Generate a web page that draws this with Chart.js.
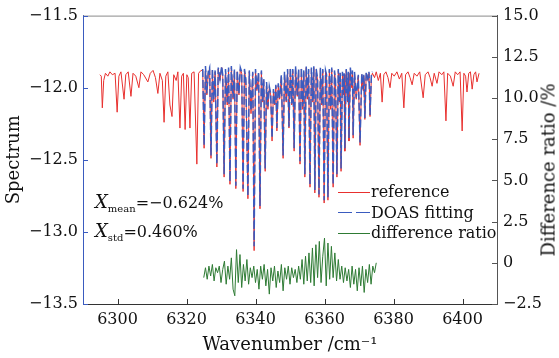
<!DOCTYPE html>
<html>
<head>
<meta charset="utf-8">
<script src="https://cdn.jsdelivr.net/npm/chart.js@4.4.1/dist/chart.umd.min.js"></script>
<style>
  body { margin: 0; background: #fff; }
  #wrap { position: relative; width: 559px; height: 358px; font-family: 'DejaVu Serif', serif; color: #111; }
  #wrap canvas { position: absolute; left: 0; top: 0; }
  .note { position: absolute; left: 95px; font-size: 16px; white-space: nowrap; line-height: 1; }
  .note i { font-size: 18px; }
  .note sub { font-size: 10px; vertical-align: -4px; }
  .legend { position: absolute; left: 338px; top: 182px; font-size: 16px; line-height: 1; }
  .row { height: 20.5px; display: flex; align-items: center; white-space: nowrap; }
  .swatch { width: 32px; height: 0; border-top: 1.4px solid; margin-right: 1px; }
  .dash { width: 14px; height: 0; border-top: 1.4px solid #3a5bbf; }
  .ytitle2 { position: absolute; left: 548px; top: 170px; transform: translate(-50%, -50%) rotate(-90deg); font-size: 18px; white-space: nowrap; }
</style>
</head>
<body>
<div id="wrap">
  <canvas id="chart" width="559" height="358"></canvas>
  <div class="note" style="top:193px"><i>X</i><sub>mean</sub>=&minus;0.624%</div>
  <div class="note" style="top:222px"><i>X</i><sub>std</sub>=0.460%</div>
  <div class="legend">
    <div class="row"><span class="swatch" style="border-color:#e8302e"></span>reference</div>
    <div class="row"><span style="display:flex;width:32px;justify-content:space-between;margin-right:1px"><span class="dash"></span><span class="dash"></span></span>DOAS fitting</div>
    <div class="row"><span class="swatch" style="border-color:#2e7b34"></span>difference ratio</div>
  </div>
  <div class="ytitle2">Difference ratio /%</div>
</div>
<script>
// ── Axis ticks ──
const xTicks = [6300, 6320, 6340, 6360, 6380, 6400];
const leftTicks = [-13.5, -13.0, -12.5, -12.0, -11.5];
const rightTicks = [-2.5, 0, 2.5, 5.0, 7.5, 10.0, 12.5, 15.0];

// ── Reference spectrum, red-only part (left) ──
const refLeftWave = [
    6294.9, 6295.3, 6295.6, 6296.0, 6296.5, 6297.2, 6297.8, 6298.5,
    6299.3, 6299.9, 6300.4, 6301.0, 6301.9, 6302.4, 6303.1, 6303.9,
    6304.5, 6305.3, 6306.2, 6306.8, 6307.6, 6308.8, 6309.5, 6310.3,
    6311.0, 6311.7, 6312.3, 6313.0, 6313.5, 6314.0, 6314.6, 6315.2,
    6315.8, 6316.3, 6317.0, 6317.5, 6318.1, 6318.6, 6319.1, 6319.6,
    6320.1, 6320.5, 6321.0, 6321.5, 6322.2, 6323.0, 6323.5, 6324.2
];
const refLeftValue = [
    -11.91, -11.92, -12.14, -11.95, -11.90, -11.92, -11.89, -11.91,
    -11.90, -12.17, -11.92, -11.89, -12.08, -11.91, -11.89, -12.06,
    -11.90, -11.92, -12.00, -11.89, -11.91, -11.96, -11.90, -11.88,
    -11.93, -12.04, -11.90, -11.95, -12.24, -11.92, -11.89, -12.12,
    -12.20, -11.91, -11.95, -11.89, -12.28, -11.92, -11.90, -12.29,
    -11.91, -11.93, -12.28, -11.90, -11.89, -12.53, -11.90, -11.88
];

// ── Fitted band (reference + DOAS fit) ──
const bandWave = [
    6324.7, 6325.1, 6325.5, 6325.9, 6326.3, 6326.7, 6327.1, 6327.5,
    6327.9, 6328.3, 6328.8, 6329.2, 6329.7, 6330.2, 6330.5, 6330.9,
    6331.3, 6331.8, 6332.2, 6332.6, 6333.0, 6333.5, 6333.9, 6334.3,
    6334.7, 6335.2, 6335.6, 6336.0, 6336.4, 6336.8, 6337.2, 6337.8,
    6338.2, 6338.7, 6339.2, 6339.6, 6340.0, 6340.4, 6340.9, 6341.3,
    6341.7, 6342.1, 6342.4, 6342.8, 6343.2, 6343.6, 6344.0, 6344.4,
    6344.8, 6345.2, 6345.6, 6345.9, 6346.2, 6346.6, 6347.0, 6347.5,
    6348.0, 6348.4, 6348.9, 6349.3, 6349.7, 6350.1, 6350.5, 6350.8,
    6351.2, 6351.6, 6352.1, 6352.5, 6352.9, 6353.3, 6353.7, 6354.0,
    6354.3, 6354.7, 6355.1, 6355.4, 6355.8, 6356.2, 6356.6, 6356.9,
    6357.2, 6357.6, 6358.0, 6358.4, 6358.8, 6359.2, 6359.5, 6359.9,
    6360.3, 6360.6, 6361.0, 6361.4, 6361.8, 6362.1, 6362.5, 6362.9,
    6363.2, 6363.6, 6364.0, 6364.3, 6364.55, 6364.8, 6365.2, 6365.5,
    6365.7, 6365.9, 6366.3, 6366.7, 6366.9, 6367.1, 6367.5, 6367.9,
    6368.1, 6368.3, 6368.7, 6369.2, 6369.8, 6370.3, 6370.8, 6371.2,
    6371.4, 6371.7, 6372.1, 6372.6, 6372.9, 6373.2, 6373.6, 6373.9
];
const refBandValue = [
    -11.88, -12.42, -11.86, -12.05, -11.90, -11.87, -12.49, -11.88,
    -12.10, -11.89, -12.55, -11.87, -11.95, -11.86, -11.92, -12.62,
    -11.88, -12.12, -11.87, -12.67, -11.86, -12.08, -11.88, -12.70,
    -11.89, -12.05, -11.87, -11.90, -12.72, -11.88, -11.95, -12.77,
    -11.89, -12.18, -11.90, -13.13, -11.88, -12.02, -11.90, -12.84,
    -11.89, -12.10, -11.95, -12.58, -11.97, -12.15, -12.00, -12.05,
    -12.37, -12.02, -12.12, -11.99, -12.30, -11.98, -12.08, -11.92,
    -12.49, -11.90, -12.10, -11.88, -12.28, -11.87, -12.12, -11.88,
    -12.44, -11.86, -12.06, -11.88, -12.53, -11.87, -12.15, -11.89,
    -12.62, -11.86, -12.08, -11.88, -12.69, -11.87, -12.10, -11.86,
    -12.73, -11.88, -11.95, -12.76, -11.87, -12.12, -11.88, -12.80,
    -11.89, -11.92, -12.78, -11.88, -12.15, -11.87, -12.69, -11.89,
    -11.96, -12.62, -11.88, -12.10, -11.90, -12.58, -11.90, -12.05,
    -11.91, -12.44, -11.88, -12.10, -11.90, -12.37, -11.87, -12.00,
    -11.89, -12.35, -11.90, -12.08, -11.92, -12.40, -11.91, -12.02,
    -11.92, -12.22, -11.90, -11.95, -11.90, -12.20, -11.92, -11.90
];
const fitBandValue = [
    -11.87, -12.40, -11.85, -12.04, -11.89, -11.86, -12.47, -11.87,
    -12.08, -11.88, -12.53, -11.86, -11.94, -11.85, -11.91, -12.60,
    -11.87, -12.10, -11.86, -12.65, -11.85, -12.07, -11.87, -12.68,
    -11.88, -12.04, -11.86, -11.89, -12.70, -11.87, -11.94, -12.75,
    -11.88, -12.16, -11.89, -13.10, -11.87, -12.01, -11.89, -12.82,
    -11.88, -12.09, -11.94, -12.56, -11.96, -12.13, -11.99, -12.04,
    -12.35, -12.01, -12.11, -11.98, -12.28, -11.97, -12.07, -11.91,
    -12.47, -11.89, -12.09, -11.87, -12.27, -11.86, -12.11, -11.87,
    -12.42, -11.85, -12.05, -11.87, -12.51, -11.86, -12.13, -11.88,
    -12.60, -11.85, -12.07, -11.87, -12.67, -11.86, -12.09, -11.85,
    -12.71, -11.87, -11.94, -12.74, -11.86, -12.11, -11.87, -12.78,
    -11.88, -11.91, -12.76, -11.87, -12.13, -11.86, -12.67, -11.88,
    -11.95, -12.60, -11.87, -12.09, -11.89, -12.56, -11.89, -12.04,
    -11.90, -12.42, -11.87, -12.09, -11.89, -12.35, -11.86, -11.99,
    -11.88, -12.33, -11.89, -12.07, -11.91, -12.38, -11.90, -12.01,
    -11.91, -12.21, -11.89, -11.94, -11.89, -12.19, -11.91, -11.89
];

// ── Reference spectrum, red-only part (right) ──
const refRightWave = [
    6374.5, 6375.0, 6375.6, 6376.2, 6376.7, 6377.2, 6377.8, 6378.4,
    6379.0, 6379.5, 6380.2, 6381.0, 6381.7, 6382.4, 6383.0, 6383.5,
    6384.2, 6384.8, 6385.4, 6386.0, 6386.8, 6387.6, 6388.6, 6389.2,
    6390.0, 6390.6, 6391.2, 6391.8, 6392.6, 6393.2, 6394.0, 6394.6,
    6395.2, 6395.7, 6396.5, 6397.3, 6397.9, 6398.6, 6399.3, 6399.9,
    6400.4, 6400.9, 6401.3, 6401.8, 6402.3, 6402.8, 6403.3, 6403.8,
    6404.2, 6404.8
];
const refRightValue = [
    -11.93, -11.89, -11.95, -11.90, -12.10, -11.91, -11.89, -11.93,
    -12.00, -11.90, -11.92, -11.89, -11.94, -11.90, -12.14, -11.91,
    -11.89, -11.93, -11.98, -11.90, -11.92, -11.89, -12.07, -11.91,
    -11.89, -11.93, -11.99, -11.90, -11.97, -11.89, -11.91, -11.89,
    -12.23, -11.90, -11.92, -11.99, -11.89, -11.91, -11.89, -12.30,
    -11.90, -11.92, -12.03, -11.90, -11.89, -12.01, -11.91, -11.89,
    -11.96, -11.90
];

// ── Difference ratio (%) ──
const diffWave = [
    6325.0, 6325.5, 6326.0, 6326.5, 6327.0, 6327.5, 6328.0, 6328.5, 6329.0, 6329.5,
    6330.0, 6330.5, 6331.0, 6331.5, 6332.0, 6332.5, 6333.0, 6333.5, 6334.0, 6334.5,
    6335.0, 6335.5, 6336.0, 6336.5, 6337.0, 6337.5, 6338.0, 6338.5, 6339.0, 6339.5,
    6340.0, 6340.5, 6341.0, 6341.5, 6342.0, 6342.5, 6343.0, 6343.5, 6344.0, 6344.5,
    6345.0, 6345.5, 6346.0, 6346.5, 6347.0, 6347.5, 6348.0, 6348.5, 6349.0, 6349.5,
    6350.0, 6350.5, 6351.0, 6351.5, 6352.0, 6352.5, 6353.0, 6353.5, 6354.0, 6354.5,
    6355.0, 6355.5, 6356.0, 6356.5, 6357.0, 6357.5, 6358.0, 6358.5, 6359.0, 6359.5,
    6360.0, 6360.5, 6361.0, 6361.5, 6362.0, 6362.5, 6363.0, 6363.5, 6364.0, 6364.5,
    6365.0, 6365.5, 6366.0, 6366.5, 6367.0, 6367.5, 6368.0, 6368.5, 6369.0, 6369.5,
    6370.0, 6370.5, 6371.0, 6371.5, 6372.0, 6372.5, 6373.0, 6373.5, 6374.0, 6374.5,
    6375.0
];
const diffValue = [
    -0.9, -0.3, -1.0, -0.2, -0.8, -0.1, -1.1, -0.3, -0.6, -0.2,
    -1.2, -0.4, 0.1, -1.3, -0.2, -1.0, 0.3, -1.6, -2.0, 0.8,
    -1.2, 0.5, -1.5, -0.1, -1.1, 0.2, -1.3, -0.3, -0.9, -0.2,
    -1.2, -0.4, -1.6, -0.2, -1.0, -0.1, -1.4, -0.4, -1.9, -0.3,
    -1.1, -0.2, -1.5, -0.5, -1.2, -0.1, -1.7, -0.3, -1.0, -0.2,
    -1.3, -0.3, -0.9, -0.4, -1.2, -0.2, -1.0, 0.2, -1.3, 0.4,
    -1.1, 0.6, -1.2, 0.9, -1.4, 1.1, -0.9, 1.3, -1.2, 0.4,
    1.5, -1.4, 1.2, -1.0, 1.0, -0.9, 0.6, -1.1, 0.2, -1.0,
    -0.2, -1.2, -0.3, -1.1, -0.4, -1.5, -0.2, -1.3, -0.4, -1.7,
    -0.3, -1.4, -0.2, -1.8, -0.4, -1.2, -0.1, -1.3, -0.2, -0.6,
    0.0
];

const RED = '#e8302e';
const BLUE = '#3a5bbf';
const GREEN = '#2e7b34';

const toPoints = (xs, ys) => xs.map((x, i) => ({ x, y: ys[i] }));
const minus = s => s.replace('-', '\u2212');

const refData = toPoints(
    [...refLeftWave, ...bandWave, ...refRightWave],
    [...refLeftValue, ...refBandValue, ...refRightValue]
);

// ── Inward tick marks + top frame ──
const innerTicks = {
    id: 'innerTicks',
    afterDraw(chart) {
        const { ctx, chartArea: a, scales } = chart;
        const len = 5;
        ctx.save();
        ctx.lineWidth = 1;
        ctx.strokeStyle = '#8a8a8a';
        ctx.beginPath();
        ctx.moveTo(a.left, a.top + 0.5);
        ctx.lineTo(a.right, a.top + 0.5);
        ctx.stroke();

        ctx.strokeStyle = '#333';
        scales.x.ticks.forEach(t => {
            const px = Math.round(scales.x.getPixelForValue(t.value)) + 0.5;
            ctx.beginPath(); ctx.moveTo(px, a.bottom); ctx.lineTo(px, a.bottom - len); ctx.stroke();
        });
        ctx.strokeStyle = BLUE;
        scales.y.ticks.forEach(t => {
            const py = Math.round(scales.y.getPixelForValue(t.value)) + 0.5;
            ctx.beginPath(); ctx.moveTo(a.left, py); ctx.lineTo(a.left + len, py); ctx.stroke();
        });
        ctx.strokeStyle = '#555';
        scales.y2.ticks.forEach(t => {
            const py = Math.round(scales.y2.getPixelForValue(t.value)) + 0.5;
            ctx.beginPath(); ctx.moveTo(a.right, py); ctx.lineTo(a.right - len, py); ctx.stroke();
        });
        ctx.restore();
    }
};

Chart.defaults.font.family = "'DejaVu Serif', serif";
Chart.defaults.color = '#111';

new Chart(document.getElementById('chart'), {
    type: 'line',
    data: {
        datasets: [
            {
                label: 'reference',
                data: refData,
                borderColor: RED,
                borderWidth: 1,
                pointRadius: 0,
                yAxisID: 'y',
                order: 2,
            },
            {
                label: 'DOAS fitting',
                data: toPoints(bandWave, fitBandValue),
                borderColor: BLUE,
                borderWidth: 1.5,
                borderDash: [8, 3],
                pointRadius: 0,
                yAxisID: 'y',
                order: 1,
            },
            {
                label: 'difference ratio',
                data: toPoints(diffWave, diffValue),
                borderColor: GREEN,
                borderWidth: 1,
                pointRadius: 0,
                yAxisID: 'y2',
                order: 0,
            }
        ]
    },
    options: {
        responsive: false,
        animation: false,
        events: [],
        layout: { padding: { top: 14, left: 0, right: 0, bottom: 0 } },
        plugins: { legend: { display: false }, tooltip: { enabled: false } },
        scales: {
            x: {
                type: 'linear',
                min: 6290,
                max: 6410,
                afterBuildTicks: s => { s.ticks = xTicks.map(v => ({ value: v })); },
                afterFit: s => { s.height = 54; },
                grid: { display: false, drawTicks: false },
                border: { display: true, color: '#333', width: 1 },
                ticks: { font: { size: 16 }, padding: 6, maxRotation: 0, callback: v => String(v) },
                title: { display: true, text: 'Wavenumber /cm\u207B\u00B9', font: { size: 18 }, padding: { top: 0, bottom: 2 } },
            },
            y: {
                type: 'linear',
                position: 'left',
                min: -13.5,
                max: -11.5,
                afterBuildTicks: s => { s.ticks = leftTicks.map(v => ({ value: v })); },
                afterFit: s => { s.width = 83; },
                grid: { display: false, drawTicks: false },
                border: { display: true, color: BLUE, width: 1 },
                ticks: { font: { size: 16 }, padding: 5, callback: v => minus(v.toFixed(1)) },
                title: { display: true, text: 'Spectrum', font: { size: 18 }, padding: { top: 4, bottom: 0 } },
            },
            y2: {
                type: 'linear',
                position: 'right',
                min: -2.5,
                max: 15,
                afterBuildTicks: s => { s.ticks = rightTicks.map(v => ({ value: v })); },
                afterFit: s => { s.width = 62; },
                grid: { display: false, drawTicks: false },
                border: { display: true, color: '#555', width: 1 },
                ticks: { font: { size: 16 }, padding: 6, callback: v => v === 0 ? '0' : minus(v.toFixed(1)) },
            }
        }
    },
    plugins: [innerTicks]
});
</script>
</body>
</html>
